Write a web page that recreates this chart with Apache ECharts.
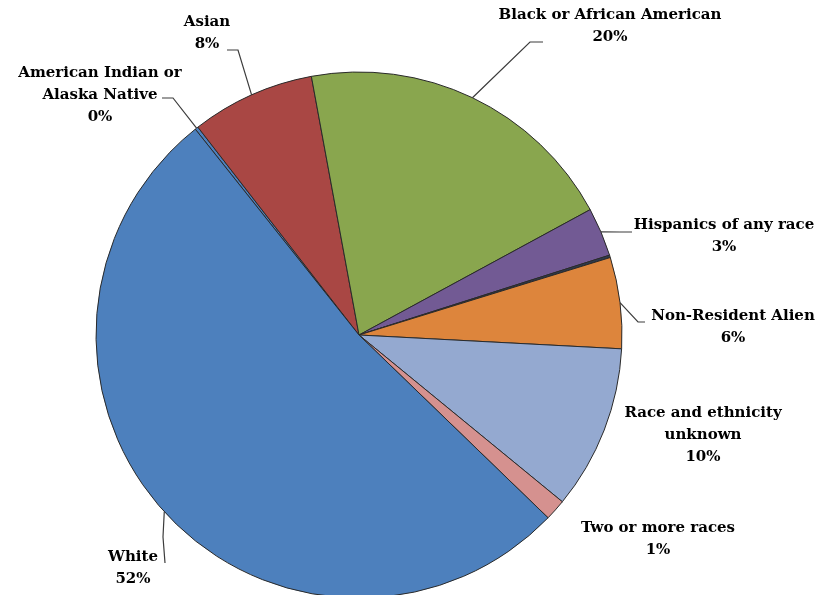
<!DOCTYPE html>
<html>
<head>
<meta charset="utf-8">
<script src="https://cdn.jsdelivr.net/npm/echarts@6/dist/echarts.min.js"></script>
<style>
html,body{margin:0;padding:0;background:#fff;}
#chart{width:824px;height:595px;}
</style>
</head>
<body>
<div id="chart"></div>
<script>
// Data
var categories = [
  'American Indian or\nAlaska Native',
  'Asian',
  'Black or African American',
  'Hispanics of any race',
  'Native Hawaiian or Other Pacific Islander',
  'Non-Resident Alien',
  'Race and ethnicity\nunknown',
  'Two or more races',
  'White'
];
var values = [0.2, 7.6, 20.0, 3.0, 0.15, 5.6, 10.1, 1.3, 52.1];
var showLabel = [true, true, true, true, false, true, true, true, true];
var showLine = [true, true, true, true, false, true, false, false, true];

// Styles / layout
var colors = ['#4D80BD', '#A94744', '#89A64E', '#725A94', '#2E3A4E', '#DD853C', '#94A9D0', '#D5918F', '#4D80BD'];
// label block centres [x, y]
var labelCentres = [
  [100, 95], [207, 33], [610, 26], [724, 236], null, [733, 327], [703, 435], [658, 539], [133, 568]
];
// leader line label-side points [elbow, end]
var leaderEnds = [
  [[173, 98], [162, 98]],
  [[238, 50], [227, 50]],
  [[530, 42], [543, 42]],
  [[620, 232], [632, 232]],
  null,
  [[638, 322], [645, 322]],
  null,
  null,
  [[163, 537], [165, 563]]
];

var total = values.reduce(function (a, b) { return a + b; }, 0);

var data = categories.map(function (c, i) {
  return {
    name: c,
    value: values[i],
    itemStyle: { color: colors[i] },
    label: { show: showLabel[i] },
    labelLine: { show: showLine[i] }
  };
});

var chart = echarts.init(document.getElementById('chart'), null, { renderer: 'canvas' });
chart.setOption({
  animation: false,
  backgroundColor: '#ffffff',
  series: [{
    type: 'pie',
    center: [359, 335],
    radius: 263,
    startAngle: 128.5,
    clockwise: true,
    avoidLabelOverlap: false,
    data: data,
    itemStyle: { borderColor: '#2a2a2a', borderWidth: 1 },
    label: {
      position: 'outside',
      color: '#000',
      fontFamily: 'DejaVu Serif',
      fontWeight: 'bold',
      fontSize: 15,
      lineHeight: 22,
      align: 'center',
      formatter: function (p) {
        return p.name + '\n' + Math.round(p.value / total * 100) + '%';
      }
    },
    labelLine: {
      show: true,
      length: 10,
      length2: 10,
      lineStyle: { color: '#3c3c3c', width: 1.2 }
    },
    labelLayout: function (params) {
      var i = params.dataIndex;
      var c = labelCentres[i];
      if (!c) return {};
      var res = { x: c[0], y: c[1], align: 'center', verticalAlign: 'middle' };
      var le = leaderEnds[i];
      if (le && params.labelLinePoints && params.labelLinePoints.length) {
        var p0 = params.labelLinePoints[0];
        res.labelLinePoints = [[p0[0], p0[1]], le[0], le[1]];
      }
      return res;
    }
  }]
});
</script>
</body>
</html>
